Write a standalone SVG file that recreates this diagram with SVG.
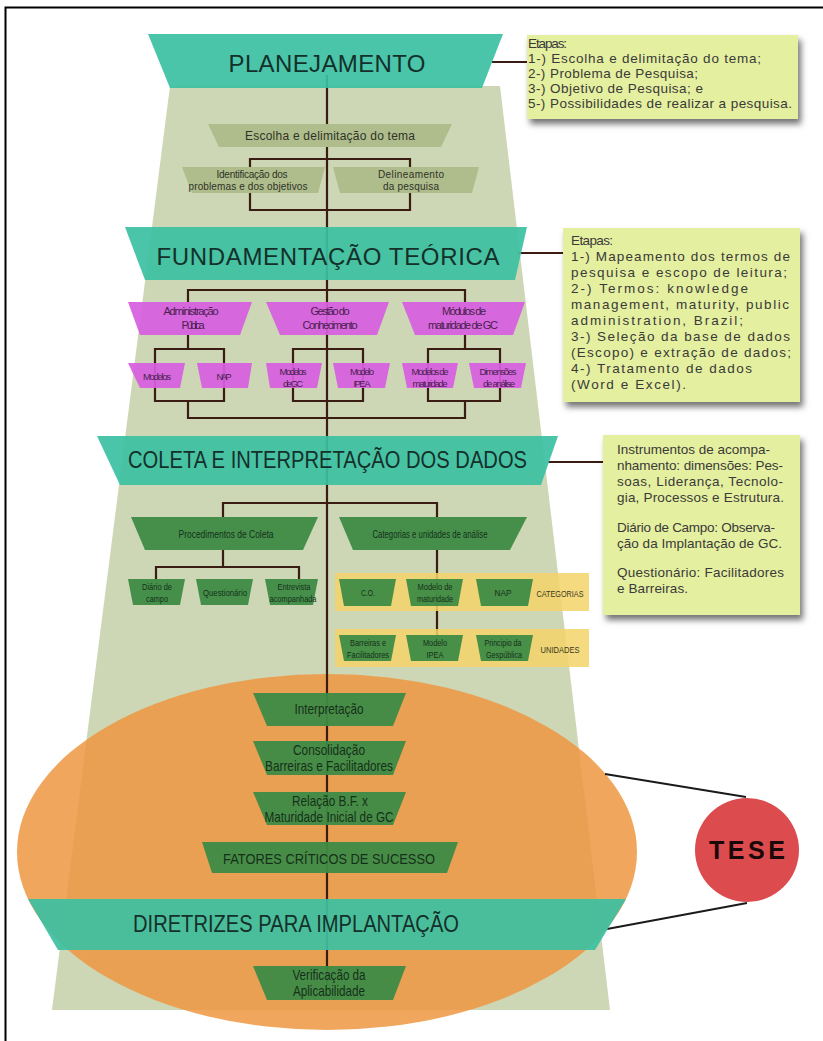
<svg xmlns="http://www.w3.org/2000/svg" width="823" height="1041" viewBox="0 0 823 1041">
  <defs>
    <filter id="shadow" x="-10%" y="-10%" width="130%" height="140%">
      <feDropShadow dx="3" dy="5" stdDeviation="3" flood-color="#000" flood-opacity="0.55"/>
    </filter>
    <style>
      .frame{fill:none;stroke:#000;stroke-width:2}
      .sage{fill:#cdd7b5}
      .halo{fill:#ef9741;fill-opacity:0.85}
      .band{fill:#3cc0a2;fill-opacity:0.92}
      .step{fill:#afbc8b}
      .mag{fill:#d65fe0;fill-opacity:0.93}
      .grn{fill:#3e8b46;fill-opacity:0.95}
      .yel{fill:#f3d46a;fill-opacity:0.85}
      .note{fill:#e4ef9f;filter:url(#shadow)}
      .tese{fill:#dc4b4d}
      .wire{fill:none;stroke:#3a1c12;stroke-width:2.2}
      .wire2{fill:none;stroke:#1a1a1a;stroke-width:1.8}
      text{font-family:"Liberation Sans",Arial,sans-serif}
      .title{font-size:24px;fill:#14302a;text-anchor:middle}
      .t-step{font-size:12px;fill:#2e3328;text-anchor:middle}
      .t-step-s{font-size:10px;fill:#2e3328;text-anchor:middle}
      .t-mag{font-size:11px;fill:#4a2050;text-anchor:middle}
      .t-mag-s{font-size:9.5px;fill:#4a2050;text-anchor:middle}
      .t-grn{font-size:11px;fill:#15301a;text-anchor:middle}
      .t-grn-s{font-size:9.5px;fill:#15301a;text-anchor:middle}
      .t-tag{font-size:9px;fill:#3a3a20;text-anchor:middle}
      .t-big{font-size:14.5px;fill:#15301a;text-anchor:middle}
      .t-note{font-size:13.5px;fill:#3a3a3a}
      .t-tese{font-size:25px;font-weight:bold;fill:#1a0808;text-anchor:middle}
    </style>
  </defs>

  <!-- page frame -->
  <path class="frame" d="M5.5,1041 V7.5 H823"/>

  <!-- background funnel and thesis ellipse -->
  <g id="background">
    <polygon class="sage" points="170,86 500,86 610,1010 52,1010"/>
    <ellipse class="halo" cx="327" cy="852" rx="310" ry="178"/>
  </g>

  <!-- connectors -->
  <g id="connectors">
    <path class="wire" d="M327,75 V985"/>
    <!-- planejamento -->
    <path class="wire" d="M250,167 V159 H410 V167 M250,193 V210 H410 V193"/>
    <!-- fundamentação -->
    <path class="wire" d="M188,302 V290 H465 V302"/>
    <path class="wire" d="M188,335 V349 M155,349 H224 V401 H155 Z M188,401 V418 H465 V401"/>
    <path class="wire" d="M293,349 H363 V401 H293 Z"/>
    <path class="wire" d="M465,335 V349 M428,349 H500 V401 H428 Z"/>
    <!-- coleta -->
    <path class="wire" d="M223,517 V503 H437 V517"/>
    <path class="wire" d="M223,550 V567 M156,579 V567 H299 V579"/>
    <path class="wire" d="M437,550 V635"/>
    <!-- notes -->
    <path class="wire" d="M492,62 H527 M518,253 H563 M548,462 H603"/>
    <!-- thesis -->
    <path class="wire2" d="M605,774 L746,797 M607,929 L747,903"/>
  </g>

  <!-- PLANEJAMENTO -->
  <g id="planejamento">
    <polygon class="band" points="148,34 503,34 482,88 170,88"/>
    <text class="title" x="327" y="72" textLength="197">PLANEJAMENTO</text>
  </g>
  <g id="nota-planejamento">
    <rect class="note" x="527" y="35" width="271" height="84"/>
    <text class="t-note" x="528" y="48" textLength="39">Etapas:</text>
    <text class="t-note" x="528" y="63" textLength="233">1-) Escolha e delimitação do tema;</text>
    <text class="t-note" x="528" y="78" textLength="170">2-) Problema de Pesquisa;</text>
    <text class="t-note" x="528" y="93" textLength="175">3-) Objetivo de Pesquisa; e</text>
    <text class="t-note" x="528" y="108" textLength="264">5-) Possibilidades de realizar a pesquisa.</text>
  </g>
  <g id="escolha">
    <polygon class="step" points="208,124 452,124 441,147 219,147"/>
    <text class="t-step" x="330" y="140" textLength="170">Escolha e delimitação do tema</text>
  </g>
  <g id="identificacao">
    <polygon class="step" points="182,167 325,167 318,193 192,193"/>
    <text class="t-step-s" x="252" y="178" textLength="71">Identificação dos</text>
    <text class="t-step-s" x="248" y="190" textLength="119">problemas e dos objetivos</text>
  </g>
  <g id="delineamento">
    <polygon class="step" points="333,167 479,167 472,193 340,193"/>
    <text class="t-step-s" x="411" y="178" textLength="66">Delineamento</text>
    <text class="t-step-s" x="411" y="190" textLength="56">da pesquisa</text>
  </g>

  <!-- FUNDAMENTAÇÃO TEÓRICA -->
  <g id="fundamentacao">
    <polygon class="band" points="125,227 527,227 515,280 145,280"/>
    <text class="title" x="328" y="265" textLength="343">FUNDAMENTAÇÃO TEÓRICA</text>
  </g>
  <g id="nota-fundamentacao">
    <rect class="note" x="563" y="228" width="237" height="174"/>
    <text class="t-note" x="571" y="245" textLength="42">Etapas:</text>
    <text class="t-note" x="571" y="261" textLength="219">1-) Mapeamento dos termos de</text>
    <text class="t-note" x="571" y="277" textLength="216">pesquisa e escopo de leitura;</text>
    <text class="t-note" x="571" y="293" textLength="177">2-) Termos: knowledge</text>
    <text class="t-note" x="571" y="309" textLength="218">management, maturity, public</text>
    <text class="t-note" x="571" y="325" textLength="172">administration, Brazil;</text>
    <text class="t-note" x="571" y="341" textLength="219">3-) Seleção da base de dados</text>
    <text class="t-note" x="571" y="357" textLength="220">(Escopo) e extração de dados;</text>
    <text class="t-note" x="571" y="373" textLength="181">4-) Tratamento de dados</text>
    <text class="t-note" x="571" y="389" textLength="115">(Word e Excel).</text>
  </g>
  <g id="administracao-publica">
    <polygon class="mag" points="128,302 252,302 240,335 140,335"/>
    <text class="t-mag" x="191" y="315" textLength="55">Administração</text>
    <text class="t-mag" x="193" y="329" textLength="23">Pública</text>
  </g>
  <g id="gestao-conhecimento">
    <polygon class="mag" points="266,302 389,302 377,335 280,335"/>
    <text class="t-mag" x="330" y="315" textLength="39">Gestão do</text>
    <text class="t-mag" x="330" y="329" textLength="55">Conhecimento</text>
  </g>
  <g id="modulos-maturidade">
    <polygon class="mag" points="402,302 525,302 513,335 415,335"/>
    <text class="t-mag" x="464" y="315" textLength="44">Módulos de</text>
    <text class="t-mag" x="463" y="329" textLength="70">maturidade de GC</text>
  </g>
  <g id="modelos">
    <polygon class="mag" points="128,363 185,363 180,388 140,388"/>
    <text class="t-mag-s" x="157" y="380" textLength="28">Modelos</text>
  </g>
  <g id="nap">
    <polygon class="mag" points="197,363 252,363 248,388 202,388"/>
    <text class="t-mag-s" x="224" y="380" textLength="15">NAP</text>
  </g>
  <g id="modelos-gc">
    <polygon class="mag" points="266,363 322,363 317,388 270,388"/>
    <text class="t-mag-s" x="293" y="374.5" textLength="27">Modelos</text>
    <text class="t-mag-s" x="293" y="386.5" textLength="20">de GC</text>
  </g>
  <g id="modelo-ipea">
    <polygon class="mag" points="333,363 390,363 385,388 338,388"/>
    <text class="t-mag-s" x="362" y="374.5" textLength="24">Modelo</text>
    <text class="t-mag-s" x="362" y="386.5" textLength="17">IPEA</text>
  </g>
  <g id="modelos-maturidade">
    <polygon class="mag" points="402,363 458,363 453,388 407,388"/>
    <text class="t-mag-s" x="430" y="374.5" textLength="37">Modelos de</text>
    <text class="t-mag-s" x="430" y="386.5" textLength="35">maturidade</text>
  </g>
  <g id="dimensoes-analise">
    <polygon class="mag" points="469,363 526,363 521,388 474,388"/>
    <text class="t-mag-s" x="498" y="374.5" textLength="37">Dimensões</text>
    <text class="t-mag-s" x="499" y="386.5" textLength="32">de análise</text>
  </g>

  <!-- COLETA E INTERPRETAÇÃO DOS DADOS -->
  <g id="coleta">
    <polygon class="band" points="97,436 558,436 541,485 120,485"/>
    <text class="title" x="327.5" y="468" textLength="399" lengthAdjust="spacingAndGlyphs">COLETA E INTERPRETAÇÃO DOS DADOS</text>
  </g>
  <g id="nota-coleta">
    <rect class="note" x="603" y="435" width="197" height="180"/>
    <text class="t-note" x="617" y="454" textLength="153">Instrumentos de acompa-</text>
    <text class="t-note" x="617" y="470" textLength="166">nhamento: dimensões: Pes-</text>
    <text class="t-note" x="617" y="486" textLength="166">soas, Liderança, Tecnolo-</text>
    <text class="t-note" x="617" y="502" textLength="167">gia, Processos e Estrutura.</text>
    <text class="t-note" x="617" y="532" textLength="158">Diário de Campo: Observa-</text>
    <text class="t-note" x="617" y="548" textLength="165">ção da Implantação de GC.</text>
    <text class="t-note" x="617" y="577" textLength="167">Questionário: Facilitadores</text>
    <text class="t-note" x="617" y="593" textLength="71">e Barreiras.</text>
  </g>
  <g id="procedimentos-coleta">
    <polygon class="grn" points="131,517 318,517 303,550 145,550"/>
    <text class="t-grn" x="226" y="538" textLength="95" lengthAdjust="spacingAndGlyphs">Procedimentos de Coleta</text>
  </g>
  <g id="categorias-unidades">
    <polygon class="grn" points="339,517 527,517 510,550 353,550"/>
    <text class="t-grn" x="430" y="538" textLength="115" lengthAdjust="spacingAndGlyphs">Categorias e unidades de análise</text>
  </g>
  <g id="diario-campo">
    <polygon class="grn" points="128,579 185,579 180,605 133,605"/>
    <text class="t-grn-s" x="157" y="589.5" textLength="30" lengthAdjust="spacingAndGlyphs">Diário de</text>
    <text class="t-grn-s" x="157" y="601.5" textLength="22" lengthAdjust="spacingAndGlyphs">campo</text>
  </g>
  <g id="questionario">
    <polygon class="grn" points="196,579 253,579 248,605 201,605"/>
    <text class="t-grn-s" x="225" y="595.5" textLength="44" lengthAdjust="spacingAndGlyphs">Questionário</text>
  </g>
  <g id="entrevista">
    <polygon class="grn" points="265,579 318,579 313,605 270,605"/>
    <text class="t-grn-s" x="294" y="589.5" textLength="33" lengthAdjust="spacingAndGlyphs">Entrevista</text>
    <text class="t-grn-s" x="293" y="601.5" textLength="47" lengthAdjust="spacingAndGlyphs">acompanhada</text>
  </g>
  <g id="categorias">
    <rect class="yel" x="335" y="573" width="254" height="38"/>
    <text class="t-tag" x="560" y="597" textLength="47" lengthAdjust="spacingAndGlyphs">CATEGORIAS</text>
  </g>
  <g id="co">
    <polygon class="grn" points="339,579 396,579 391,606 344,606"/>
    <text class="t-grn-s" x="368" y="595.5" textLength="14" lengthAdjust="spacingAndGlyphs">C.O.</text>
  </g>
  <g id="modelo-maturidade">
    <polygon class="grn" points="406,579 463,579 458,606 411,606"/>
    <text class="t-grn-s" x="435" y="589.5" textLength="35" lengthAdjust="spacingAndGlyphs">Modelo de</text>
    <text class="t-grn-s" x="435" y="601.5" textLength="36" lengthAdjust="spacingAndGlyphs">maturidade</text>
  </g>
  <g id="nap-categoria">
    <polygon class="grn" points="476,579 533,579 528,606 481,606"/>
    <text class="t-grn-s" x="503" y="595.5" textLength="17" lengthAdjust="spacingAndGlyphs">NAP</text>
  </g>
  <g id="unidades">
    <rect class="yel" x="335" y="629" width="254" height="38"/>
    <text class="t-tag" x="560" y="653" textLength="39" lengthAdjust="spacingAndGlyphs">UNIDADES</text>
  </g>
  <g id="barreiras-facilitadores">
    <polygon class="grn" points="339,635 396,635 391,661 344,661"/>
    <text class="t-grn-s" x="368" y="645.5" textLength="36" lengthAdjust="spacingAndGlyphs">Barreiras e</text>
    <text class="t-grn-s" x="368" y="657.5" textLength="42" lengthAdjust="spacingAndGlyphs">Facilitadores</text>
  </g>
  <g id="modelo-ipea-unidade">
    <polygon class="grn" points="406,635 463,635 458,661 411,661"/>
    <text class="t-grn-s" x="435" y="645.5" textLength="24" lengthAdjust="spacingAndGlyphs">Modelo</text>
    <text class="t-grn-s" x="435" y="657.5" textLength="17" lengthAdjust="spacingAndGlyphs">IPEA</text>
  </g>
  <g id="principio-gespublica">
    <polygon class="grn" points="476,635 533,635 528,661 481,661"/>
    <text class="t-grn-s" x="503" y="645.5" textLength="37" lengthAdjust="spacingAndGlyphs">Principio da</text>
    <text class="t-grn-s" x="504" y="657.5" textLength="36" lengthAdjust="spacingAndGlyphs">Gespública</text>
  </g>

  <!-- interpretação e tese -->
  <g id="interpretacao">
    <polygon class="grn" points="253,693 406,693 393,726 267,726"/>
    <text class="t-big" x="329" y="714" textLength="69" lengthAdjust="spacingAndGlyphs">Interpretação</text>
  </g>
  <g id="consolidacao">
    <polygon class="grn" points="253,741 406,741 393,775 267,775"/>
    <text class="t-big" x="329" y="755" textLength="72" lengthAdjust="spacingAndGlyphs">Consolidação</text>
    <text class="t-big" x="329" y="771" textLength="128" lengthAdjust="spacingAndGlyphs">Barreiras e Facilitadores</text>
  </g>
  <g id="relacao-bf">
    <polygon class="grn" points="253,792 406,792 393,825 267,825"/>
    <text class="t-big" x="330" y="806" textLength="76" lengthAdjust="spacingAndGlyphs">Relação B.F. x</text>
    <text class="t-big" x="329" y="822" textLength="129" lengthAdjust="spacingAndGlyphs">Maturidade Inicial de GC</text>
  </g>
  <g id="fatores-criticos">
    <polygon class="grn" points="202,842 458,842 447,873 212,873"/>
    <text class="t-big" x="329" y="864" font-size="16" textLength="212" lengthAdjust="spacingAndGlyphs">FATORES CRÍTICOS DE SUCESSO</text>
  </g>
  <g id="diretrizes">
    <polygon class="band" points="28,899 626,899 595,950 58,950"/>
    <text class="title" x="296" y="932" textLength="326" lengthAdjust="spacingAndGlyphs">DIRETRIZES PARA IMPLANTAÇÃO</text>
  </g>
  <g id="verificacao">
    <polygon class="grn" points="253,966 406,966 393,1000 267,1000"/>
    <text class="t-big" x="329" y="980" textLength="73" lengthAdjust="spacingAndGlyphs">Verificação da</text>
    <text class="t-big" x="329" y="996" textLength="72" lengthAdjust="spacingAndGlyphs">Aplicabilidade</text>
  </g>
  <g id="tese">
    <circle class="tese" cx="747" cy="850" r="52"/>
    <text class="t-tese" x="747" y="859" textLength="76">TESE</text>
  </g>
</svg>
